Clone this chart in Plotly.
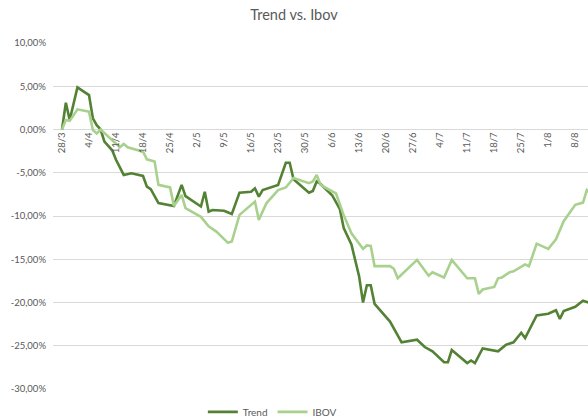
import datetime as dt
import plotly.graph_objects as go

BASE = dt.date(2022, 3, 28)

# Trend series: (days since 28/3, % return)
trend_days = [0, 1, 2, 4, 7, 8, 9, 10, 11, 13, 14, 16, 18, 21, 22, 23, 25, 29, 31, 32,
              36, 37, 38, 39, 42, 44, 46, 49, 50, 51, 52, 56, 58, 59, 60, 64, 65, 66, 67, 70,
              72, 73, 75, 77, 78, 79, 80, 81, 85, 88, 92, 94, 96, 99, 100, 101, 105, 106, 107, 109,
              113, 115, 117, 119, 120, 122, 123, 126, 128, 129, 130, 133, 135, 137]
trend_vals = [0.0, 3.1, 1.1, 4.87, 3.98, 1.3, 0.5, 0.0, -1.4, -2.4, -3.5, -5.25, -5.06, -5.37, -6.6, -6.9, -8.5, -8.85, -6.4, -7.7,
              -8.9, -7.2, -9.5, -9.3, -9.4, -9.76, -7.3, -7.2, -6.8, -7.76, -7.0, -6.4, -3.85, -3.85, -5.75, -7.3, -7.1, -6.0, -6.3, -7.6,
              -9.2, -11.4, -13.3, -17.0, -20.0, -18.0, -18.0, -20.15, -22.2, -24.6, -24.3, -25.15, -25.65, -26.9, -26.9, -25.5, -27.0, -26.7, -27.0, -25.3,
              -25.65, -24.9, -24.6, -23.5, -24.1, -22.4, -21.5, -21.3, -20.9, -21.9, -21.0, -20.5, -19.8, -20.1]

# IBOV series
ibov_days = [0, 1, 2, 4, 7, 8, 9, 10, 15, 16, 17, 21, 22, 24, 25, 28, 29, 31, 32, 36,
             38, 40, 43, 44, 46, 50, 51, 53, 56, 58, 60, 64, 65, 66, 67, 71, 73, 75, 78, 79,
             80, 81, 85, 86, 87, 92, 95, 96, 99, 101, 105, 107, 108, 109, 112, 113, 114, 116, 117, 120,
             121, 123, 126, 128, 130, 133, 135, 136, 137]
ibov_vals = [0.0, 1.1, 1.0, 2.33, 2.06, -0.06, -0.45, 0.0, -2.06, -1.67, -2.06, -2.56, -3.45, -3.7, -6.4, -6.7, -8.83, -7.56, -9.1, -10.1,
             -11.2, -11.8, -13.1, -12.95, -9.87, -8.33, -10.45, -8.5, -7.0, -6.7, -5.6, -6.2, -6.0, -5.25, -6.4, -7.4, -9.9, -12.0, -13.8, -13.4,
             -13.45, -15.8, -15.8, -16.1, -17.2, -15.07, -16.9, -16.5, -17.1, -15.07, -17.2, -17.2, -19.0, -18.5, -18.2, -17.2, -17.1, -16.5, -16.4, -15.6,
             -15.8, -13.2, -13.8, -12.7, -10.6, -8.7, -8.45, -7.0, -7.4]

x_tick_labels = ["28/3", "4/4", "11/4", "18/4", "25/4", "2/5", "9/5", "16/5", "23/5", "30/5",
                 "6/6", "13/6", "20/6", "27/6", "4/7", "11/7", "18/7", "25/7", "1/8", "8/8"]
y_tick_vals = [10, 5, 0, -5, -10, -15, -20, -25, -30]
y_tick_labels = ["10,00%", "5,00%", "0,00%", "-5,00%", "-10,00%", "-15,00%", "-20,00%", "-25,00%", "-30,00%"]


def to_dates(days):
    return [(BASE + dt.timedelta(days=d)).isoformat() for d in days]


tick_dates = [(BASE + dt.timedelta(days=7 * i)).isoformat() for i in range(len(x_tick_labels))]

fig = go.Figure()
fig.add_trace(go.Scatter(x=to_dates(trend_days), y=trend_vals, mode="lines", name="Trend",
                         line=dict(color="#548235", width=2.6)))
fig.add_trace(go.Scatter(x=to_dates(ibov_days), y=ibov_vals, mode="lines", name="IBOV",
                         line=dict(color="#A9D18E", width=2.6)))

x_start = dt.datetime(2022, 3, 28) - dt.timedelta(days=2.33)
x_end = dt.datetime(2022, 3, 28) + dt.timedelta(days=136.3)

fig.update_layout(
    width=588, height=419,
    margin=dict(l=53, r=0, t=43, b=30, pad=0, autoexpand=False),
    paper_bgcolor="white", plot_bgcolor="white",
    font=dict(family="Lato, 'Open Sans', sans-serif", color="#595959", size=10),
    title=dict(text="Trend vs. Ibov", x=0.5, xanchor="center", y=0.965, yanchor="middle",
               font=dict(size=14.5, color="#595959")),
    showlegend=True,
    legend=dict(orientation="h", x=0.41, xanchor="center", y=-0.066, yanchor="middle",
                font=dict(size=10, color="#595959"), itemwidth=30, tracegroupgap=0),
    xaxis=dict(type="date", range=[x_start, x_end], tickvals=tick_dates, ticktext=x_tick_labels,
               tickangle=-90, showgrid=False, zeroline=False, showline=False, ticks="",
               anchor="free", position=0.75, tickfont=dict(size=9.5, color="#595959")),
    yaxis=dict(range=[-30, 10], tickvals=y_tick_vals, ticktext=y_tick_labels,
               showgrid=True, gridcolor="#D9D9D9", gridwidth=1, zeroline=False, showline=False,
               ticks="", ticklabelstandoff=6, tickfont=dict(size=9.5, color="#595959")),
)

fig.write_html("out.html", config={"displayModeBar": False},
               post_script="document.body.style.margin='0';document.body.style.overflow='hidden';")
